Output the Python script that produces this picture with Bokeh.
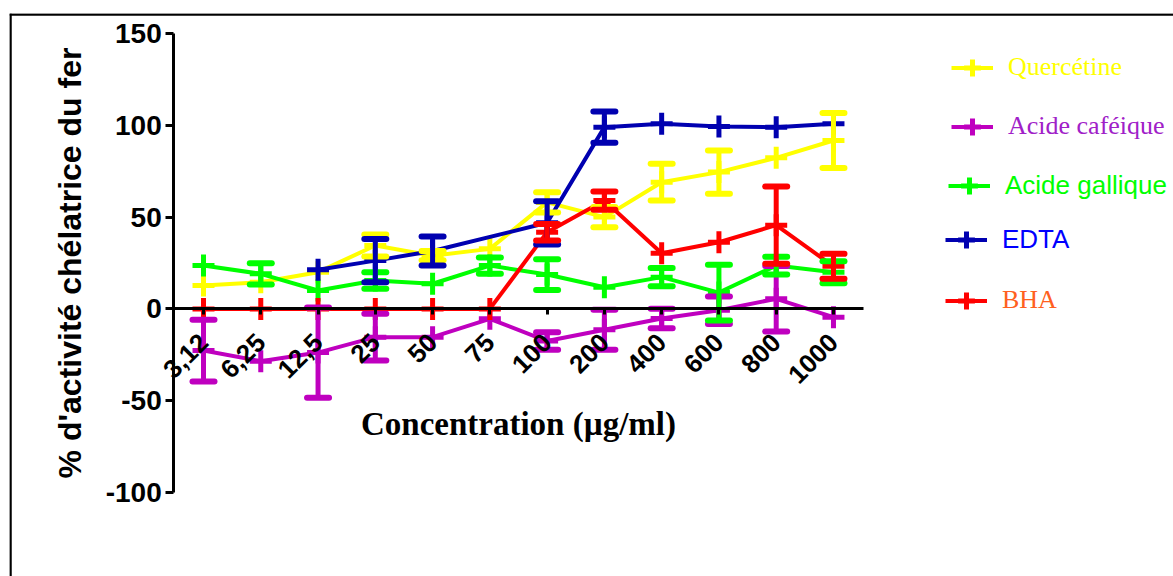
import math
from bokeh.plotting import figure
from bokeh.models import (Range1d, FixedTicker, ColumnDataSource, Whisker, TeeHead,
                          Legend, LegendItem, Span)
from bokeh.embed import file_html
from bokeh.resources import INLINE

# ---------------- data ----------------
categories = ["3,12", "6,25", "12,5", "25", "50", "75", "100", "200", "400", "600", "800", "1000"]

quercetine = [12.7, 14.5, 20.0, 34.5, 29.0, 32.7, 58.0, 50.0, 69.0, 74.5, 82.3, 91.7]
quercetine_err = [0, 0, 0, 6.0, 2.5, 0, 5.5, 5.5, 10.0, 11.8, 0, 15.0]

cafeique = [-22.7, -28.5, -23.8, -15.4, -15.4, -5.4, -17.5, -11.4, -5.2, -0.7, 5.5, -4.5]
cafeique_err = [16.8, 0, 24.6, 12.7, 0, 0, 4.8, 10.9, 5.3, 7.5, 17.8, 0]

gallique = [23.6, 19.1, 10.0, 15.5, 13.7, 23.6, 18.7, 11.8, 17.3, 8.9, 23.6, 20.0]
gallique_err = [0, 5.8, 0, 4.5, 0, 4.4, 8.4, 0, 5.0, 15.2, 4.8, 6.0]

edta = [None, None, 21.3, 26.3, 31.5, None, 46.9, 99.0, 100.8, 99.3, 99.0, 100.8]
edta_err = [0, 0, 0, 11.8, 7.9, 0, 11.8, 8.5, 0, 0, 0, 0]

bha = [0, 0, 0, 0, 0, 0, 41.8, 59.0, 30.3, 36.3, 45.6, 23.2]
bha_err = [0, 0, 0, 0, 0, 0, 4.5, 5.0, 0, 0, 21.0, 6.8]

series_names = ["Quercétine", "Acide caféique", "Acide gallique", "EDTA", "BHA"]
series_values = [quercetine, cafeique, gallique, edta, bha]
series_errors = [quercetine_err, cafeique_err, gallique_err, edta_err, bha_err]

y_ticks = [-100, -50, 0, 50, 100, 150]

# ---------------- styles ----------------
line_colors = ["#FFFF00", "#BF00BF", "#00FF00", "#0000B0", "#FF0000"]
text_colors = ["#FFFF00", "#A020C8", "#00FF00", "#0000FF", "#FF6020"]
text_fonts = ["Liberation Serif", "Liberation Serif", "Liberation Sans", "Liberation Sans", "Liberation Serif"]
# legend rows: (glyph centre x, centre y, label start x) in page pixels
legend_rows = [(972, 67, 1008), (972, 126, 1008), (969, 185, 1005), (966, 239, 1002), (966, 300, 1002)]

W, H = 1173, 576
FR_L, FR_T = 9, 13              # page coords of frame top-left
FR_R, FR_B = W, H               # frame runs to the page edge
PX_X0, PX_DX = 203.0, 57.27     # page x of first category, spacing
PX_Y0, PX_DY = 308.4, 1.836     # page y of value 0, px per unit

x_start = (FR_L - PX_X0) / PX_DX
x_end = (FR_R - PX_X0) / PX_DX
y_end = (PX_Y0 - FR_T) / PX_DY
y_start = (PX_Y0 - FR_B) / PX_DY

p = figure(width=W, height=H, output_backend="svg", toolbar_location=None,
           x_range=Range1d(x_start, x_end), y_range=Range1d(y_start, y_end),
           min_border_left=FR_L, min_border_right=0, min_border_top=FR_T, min_border_bottom=0)
p.grid.visible = False
p.outline_line_color = None
p.background_fill_color = "white"
# page border: only left and top edges are visible in the original
p.add_layout(Span(location=x_start + 1.0 / PX_DX, dimension="height",
                  line_color="black", line_width=2.5, level="overlay"))
p.add_layout(Span(location=y_end - 1.0 / PX_DY, dimension="width",
                  line_color="black", line_width=2.5, level="overlay"))

xax = p.xaxis[0]
xax.fixed_location = 0
xax.bounds = (-0.52, len(categories) - 0.48)
xax.ticker = FixedTicker(ticks=list(range(len(categories))))
xax.major_label_overrides = {i: c for i, c in enumerate(categories)}
xax.major_label_orientation = math.pi / 4
xax.major_label_text_font = "Liberation Sans"
xax.major_label_text_font_style = "bold"
xax.major_label_text_font_size = "26px"
xax.major_label_text_color = "black"
xax.major_label_standoff = 23
xax.major_tick_out = 6
xax.major_tick_in = 0
xax.minor_tick_out = 0
xax.minor_tick_in = 0
xax.axis_line_width = 3
xax.axis_line_color = "black"
xax.major_tick_line_width = 3
xax.major_tick_line_color = "black"
xax.axis_label = "Concentration (µg/ml)"
xax.axis_label_text_font = "Liberation Serif"
xax.axis_label_text_font_style = "bold"
xax.axis_label_text_font_size = "33px"
xax.axis_label_text_color = "black"
xax.axis_label_standoff = 12

yax = p.yaxis[0]
yax.fixed_location = -0.52
yax.bounds = (-100, 150)
yax.ticker = FixedTicker(ticks=y_ticks)
yax.major_label_overrides = {v: str(v) for v in y_ticks}
yax.major_label_text_font = "Liberation Sans"
yax.major_label_text_font_style = "bold"
yax.major_label_text_font_size = "28px"
yax.major_label_text_color = "black"
yax.major_label_standoff = 4
yax.major_tick_out = 8
yax.major_tick_in = 0
yax.minor_tick_out = 0
yax.minor_tick_in = 0
yax.axis_line_width = 3
yax.axis_line_color = "black"
yax.major_tick_line_width = 3
yax.major_tick_line_color = "black"
yax.axis_label = "% d'activité chélatrice du fer"
yax.axis_label_text_font = "Liberation Sans"
yax.axis_label_text_font_style = "bold"
yax.axis_label_text_font_size = "32px"
yax.axis_label_text_color = "black"
yax.axis_label_standoff = 14

GW, GH = 42, 55
for k, name in enumerate(series_names):
    vals = series_values[k]
    errs = series_errors[k]
    col = line_colors[k]
    xs = [i for i, v in enumerate(vals) if v is not None]
    ys = [v for v in vals if v is not None]
    src = ColumnDataSource(dict(x=xs, y=ys))

    wx = [i for i, v in enumerate(vals) if v is not None and errs[i] > 0]
    wsrc = ColumnDataSource(dict(x=wx,
                                 upper=[vals[i] + errs[i] for i in wx],
                                 lower=[vals[i] - errs[i] for i in wx]))
    wh = Whisker(base="x", upper="upper", lower="lower", source=wsrc, level="glyph",
                 line_color=col, line_width=5,
                 upper_head=TeeHead(size=22, line_color=col, line_width=6, line_cap="round"),
                 lower_head=TeeHead(size=22, line_color=col, line_width=6, line_cap="round"))
    p.add_layout(wh)
    ln = p.line("x", "y", source=src, line_color=col, line_width=4, line_join="round")
    sc = p.scatter("x", "y", source=src, marker="cross", size=22, line_color=col, line_width=5)

    gx, gy, tx = legend_rows[k]
    leg = Legend(items=[LegendItem(label=name, renderers=[ln, sc])],
                 location=(gx - GW / 2 - FR_L, FR_B - (gy + GH / 2)),
                 glyph_width=GW, glyph_height=GH, label_standoff=int(tx - (gx + GW / 2)),
                 padding=0, margin=0, spacing=0, border_line_color=None,
                 background_fill_alpha=0,
                 label_text_color=text_colors[k], label_text_font=text_fonts[k],
                 label_text_font_size="26px")
    p.add_layout(leg)

open("out.html", "w").write(file_html(p, INLINE))
